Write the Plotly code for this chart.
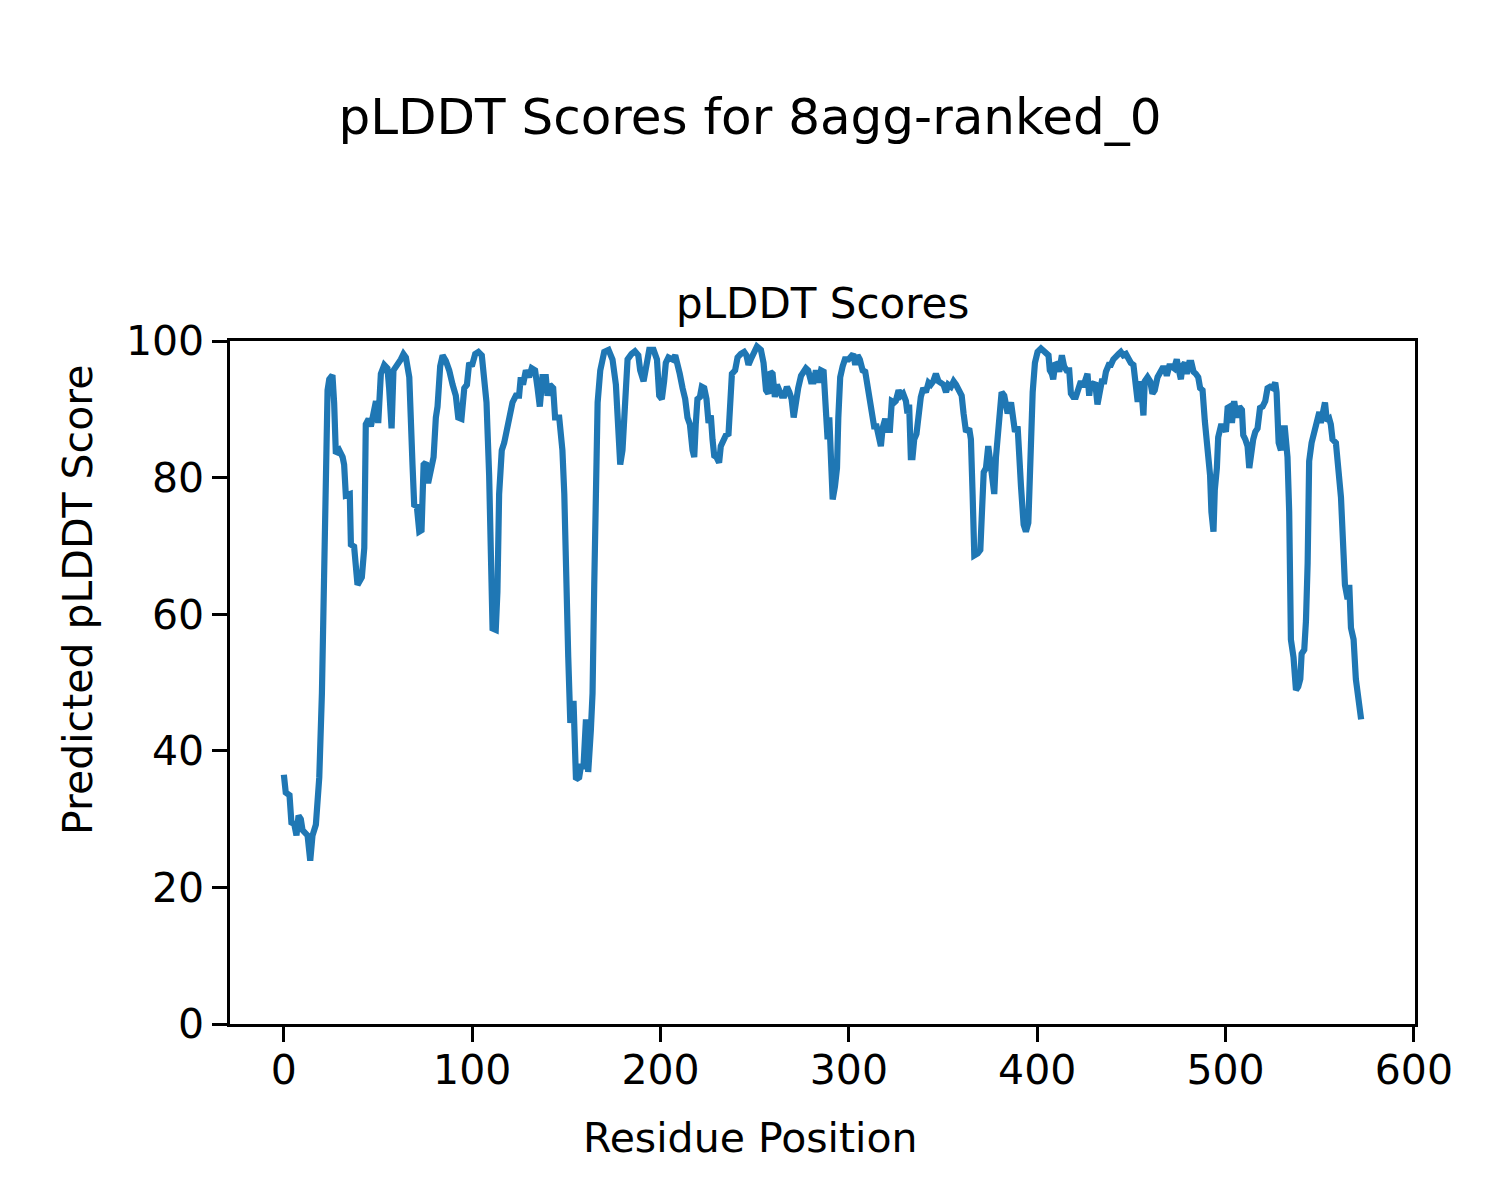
import plotly.graph_objects as go

# Residue positions and pLDDT scores
residue = [0, 1, 3, 4, 5.5, 6.7, 7.8, 9, 9.9, 11.3, 12.6, 14, 15.2, 17, 18.8, 20.2, 21.4, 22.3, 23.2, 24.1, 25.8,
           26.7, 27.6, 29.4, 31.2, 32, 32.9, 35, 35.6, 37.3, 38.2, 39.1, 41.4, 42.7, 43.5, 45, 46.2, 47.4, 48.9,
           50.1, 51.5, 53.3, 55, 55.9, 57.2, 58.2, 60.4, 62.1, 63.5, 64.8, 66.6, 67.4, 68.3, 69.2, 70.6, 71.9,
           73.1, 74.2, 75.4, 76.6, 78.1, 79.5, 80.7, 81.6, 83, 84.3, 86, 87.8, 89.6, 91.3, 92.6, 94.3, 95.8,
           97.2, 98.4, 99.8, 101.6, 103.3, 105.1, 106.3, 107.6, 109, 109.9, 110.8, 112.5, 113.4, 114.3, 115.7,
           117, 118.7, 121.4, 123.2, 124.9, 125.8, 127, 128.5, 130.2, 131.6, 133.4, 134.7, 135.9, 137.3, 139.1,
           140, 141.2, 143, 144, 146.2, 147.9, 148.9, 149.8, 151, 152.1, 153.8, 155.1, 156.8, 157.7, 159.1,
           160.4, 161.6, 163, 163.9, 164.8, 165.7, 166.6, 168, 170.1, 172.4, 174.5, 176.3, 177.5, 178.6, 179.8,
           181.1, 182.5, 184.6, 186.4, 188.2, 189.2, 191, 192.2, 194, 196.3, 198.1, 199.3, 200.7, 201.9, 202.8,
           204.2, 206.4, 207.8, 209, 210.2, 211.7, 213.1, 214.3, 215.6, 217, 217.9, 218.7, 219.6, 220.9, 221.9,
           223.2, 224.4, 225.5, 226.7, 227.6, 228.5, 229.7, 231.1, 232, 233.3, 234.7, 236.1, 236.8, 237.9,
           239.6, 240.9, 242.6, 244.4, 245.6, 246.7, 247.9, 249.4, 251.2, 253.3, 254.7, 256, 257.2, 258.3,
           259.5, 260.7, 261.8, 263, 264.3, 265.7, 267.1, 268.4, 269.6, 270.7, 271.9, 273.1, 274.6, 276,
           277.2, 278.4, 279.9, 281.3, 282.5, 283.8, 285.2, 286.6, 287.8, 288.7, 289.6, 290.5, 291.4, 292.6,
           293.7, 294.4, 295.4, 296.7, 297.9, 299.8, 301.1, 302.3, 303.4, 304.6, 305.8, 307.3, 308.7, 309.9,
           311.1, 312.2, 313.4, 314.7, 315.7, 317, 317.9, 319.3, 320.5, 321.8, 322.8, 324.1, 324.9, 326.4,
           327.6, 328.8, 330.3, 331.1, 332, 332.9, 333.8, 334.7, 335.9, 337, 338.2, 339.5, 340.9, 342.3,
           343.5, 344.8, 346.2, 347.6, 348.8, 350.3, 351.6, 352.8, 354.2, 355.6, 356.9, 358.6, 359.9, 360.9,
           362.2, 363.9, 364.8, 365.7, 366.6, 368.4, 369.8, 370.5, 371.6, 372.8, 374, 375.5, 376.3, 377.2,
           378.1, 379.3, 380.4, 381.1, 382.5, 383.4, 384.3, 386.1, 386.9, 388.2, 389.6, 390.5, 391.4, 392.8,
           394, 395.3, 396.3, 397.6, 398.8, 400.2, 402, 404.3, 406, 406.7, 407.8, 408.5, 409.6, 410.8, 411.7,
           413.1, 414.3, 415.6, 417, 417.9, 419.1, 420.5, 421.9, 423.2, 424.4, 425.5, 426.7, 427.6, 428.5,
           429.7, 430.8, 432, 433.3, 434.3, 435.6, 436.5, 438, 439.1, 440.4, 441.8, 443.2, 444.4, 445.7,
           447.1, 448.5, 449.7, 451.1, 452.4, 453.2, 454.1, 455, 456.4, 457.1, 458.6, 460, 461.2, 462.4,
           463.9, 465.3, 466.5, 467.8, 468.8, 470.1, 471.3, 472.7, 474.1, 475.4, 476.3, 477.1, 478.4, 479.4,
           480.7, 481.9, 483, 484.2, 485.5, 486.5, 487.8, 489, 490.4, 491.8, 492.5, 493.6, 494.3, 495.4,
           496.1, 497.5, 498.9, 500.2, 501.1, 502.3, 503.4, 504.6, 505.9, 507.3, 508.7, 509.4, 510.5, 511.7,
           512.6, 513.5, 514.7, 515.8, 517, 518.3, 519.7, 521.1, 522.3, 523.6, 525, 526.4, 527.1, 528.2,
           529.4, 530.3, 531.5, 532.9, 533.8, 534.7, 536.1, 537.4, 538.6, 539.7, 540.4, 541.8, 542.7, 543.6,
           544.4, 545.7, 547.1, 548.5, 549.8, 550.6, 551.5, 552.8, 553.8, 555.1, 555.9, 556.8, 558.6, 559.8,
           561.3, 562.7, 563.4, 564.8, 565.7, 566.6, 568, 569.2, 570.3, 571.2, 572]

plddt = [36.5, 33.9, 33.5, 29.5, 29.3, 27.6, 30.5, 30.0, 28.4, 28.1, 27.6, 23.9, 27.6, 29.2, 36.1, 48.4, 64.3,
         85.6, 92.8, 94.4, 95.0, 90.9, 83.5, 84.0, 83.0, 81.9, 77.4, 77.6, 70.2, 69.9, 65.4, 64.3, 65.4, 69.7,
         87.8, 88.6, 87.5, 88.8, 91.2, 88.0, 95.2, 96.5, 96.0, 93.1, 87.2, 95.7, 96.5, 97.3, 98.1, 97.6, 94.7,
         83.5, 81.9, 76.0, 75.8, 72.1, 72.3, 81.9, 82.2, 79.2, 81.6, 83.0, 88.8, 90.4, 96.3, 97.9, 97.1, 95.7,
         93.6, 92.0, 88.8, 88.6, 93.1, 93.6, 96.8, 96.3, 98.1, 98.4, 97.9, 95.2, 91.0, 80.3, 69.7, 57.9, 57.7,
         63.3, 77.6, 84.0, 85.1, 87.5, 91.0, 92.0, 92.0, 94.7, 93.6, 95.7, 94.7, 96.0, 95.7, 93.1, 90.4, 94.7,
         94.7, 92.0, 93.6, 93.1, 88.8, 88.8, 84.0, 77.6, 64.3, 53.7, 44.1, 47.3, 35.8, 36.1, 37.7, 37.7, 44.6,
         36.9, 43.0, 48.4, 64.3, 85.6, 91.0, 95.7, 98.4, 98.7, 97.3, 93.6, 88.3, 81.9, 84.0, 90.9, 97.3, 98.1,
         98.5, 97.9, 95.7, 94.1, 96.3, 98.7, 98.7, 97.3, 92.0, 91.5, 94.1, 96.8, 97.6, 97.3, 97.9, 96.8, 95.2,
         93.1, 91.5, 88.8, 87.8, 84.0, 83.0, 87.8, 91.5, 91.8, 93.3, 93.1, 91.5, 88.0, 89.1, 85.6, 83.2, 83.0,
         82.2, 84.6, 85.6, 86.2, 86.4, 89.9, 95.2, 95.7, 97.6, 98.1, 98.4, 97.9, 96.5, 97.3, 98.4, 99.2, 98.7,
         96.8, 92.8, 92.3, 95.5, 95.2, 91.8, 93.6, 92.8, 92.0, 92.0, 93.3, 92.5, 91.5, 88.8, 91.5, 93.1, 94.9,
         95.5, 96.0, 95.7, 94.1, 94.1, 95.7, 93.9, 95.7, 95.5, 91.0, 85.6, 88.8, 79.2, 76.8, 78.7, 81.4, 88.8,
         94.7, 96.3, 97.3, 97.3, 97.6, 98.1, 96.5, 97.9, 97.3, 95.7, 95.5, 93.1, 91.0, 88.8, 87.5, 87.5, 86.2,
         84.6, 87.2, 88.6, 87.0, 87.0, 91.2, 91.0, 91.2, 92.8, 92.0, 92.3, 91.2, 89.4, 90.7, 83.0, 83.0, 85.6,
         86.4, 89.4, 91.8, 93.1, 92.5, 93.9, 93.6, 94.1, 95.2, 94.1, 93.9, 93.6, 92.5, 93.6, 93.3, 94.1, 93.6,
         92.8, 92.0, 89.4, 86.7, 87.2, 85.6, 77.6, 68.6, 68.9, 69.4, 73.9, 80.8, 81.4, 84.6, 81.4, 78.2, 77.6,
         83.0, 87.8, 91.0, 92.5, 92.0, 89.6, 89.4, 91.0, 88.6, 86.7, 87.5, 80.3, 78.7, 73.1, 72.1, 73.4, 83.0,
         92.5, 96.8, 98.4, 98.9, 98.4, 97.9, 95.7, 95.2, 94.4, 96.8, 96.5, 95.5, 97.9, 96.3, 95.7, 95.7, 92.3,
         91.8, 91.8, 93.1, 94.1, 93.3, 94.4, 95.2, 92.0, 93.9, 93.6, 93.9, 90.7, 92.5, 94.1, 94.1, 95.5, 96.5,
         96.5, 97.3, 97.9, 98.1, 98.4, 97.9, 98.1, 97.3, 96.8, 96.5, 94.1, 91.5, 91.5, 94.1, 89.1, 94.1, 94.7,
         94.1, 92.3, 92.8, 94.7, 95.7, 96.0, 96.0, 94.9, 96.3, 96.3, 96.0, 97.3, 95.5, 94.4, 96.3, 96.8, 95.2,
         96.8, 96.8, 95.5, 95.2, 94.7, 93.1, 92.8, 88.3, 83.5, 80.3, 75.0, 72.1, 78.2, 81.4, 85.9, 87.5, 87.5,
         86.7, 90.2, 90.4, 88.0, 91.2, 88.8, 90.4, 89.9, 86.2, 85.6, 84.6, 81.4, 83.5, 85.6, 86.7, 87.2, 90.2,
         90.4, 91.2, 93.1, 93.3, 93.1, 93.9, 92.5, 85.1, 84.0, 87.2, 87.2, 83.0, 75.0, 56.3, 53.7, 48.9, 49.4,
         50.5, 54.2, 54.8, 59.0, 67.5, 82.4, 85.1, 86.7, 88.6, 89.6, 88.0, 89.9, 91.0, 88.3, 88.6, 87.8, 85.6,
         85.1, 81.4, 77.1, 68.6, 64.3, 62.2, 64.3, 58.0, 56.3, 50.5, 48.4, 47.6, 44.6]

x_ticks = [0, 100, 200, 300, 400, 500, 600]
y_ticks = [0, 20, 40, 60, 80, 100]

FONT = "DejaVu Sans"

fig = go.Figure()
fig.add_trace(go.Scatter(x=residue, y=plddt, mode="lines",
                         line=dict(color="#1f77b4", width=6.2), showlegend=False))

axis_common = dict(showline=True, linecolor="black", linewidth=3.3, mirror=True,
                   ticks="outside", ticklen=14.5, tickwidth=3.3, tickcolor="black",
                   showgrid=False, zeroline=False, automargin=False,
                   tickfont=dict(family=FONT, size=41, color="black"))

fig.update_layout(
    width=1500, height=1200,
    paper_bgcolor="white", plot_bgcolor="white",
    margin=dict(l=222, r=93, t=333, b=184),
    title=dict(text="pLDDT Scores for 8agg-ranked_0", x=742 / 1500, xref="container", xanchor="center",
               y=1 - 108 / 1200, yref="container", yanchor="middle",
               font=dict(family=FONT, size=50, color="black")),
    xaxis=dict(range=[-28.6, 600.6], tickvals=x_ticks, ticklabelstandoff=-7, **axis_common),
    yaxis=dict(range=[0, 100], tickvals=y_ticks, **axis_common),
    annotations=[
        dict(text="pLDDT Scores", xref="paper", yref="paper", x=0.5, y=1 + 38 / 683,
             xanchor="center", yanchor="middle", showarrow=False,
             font=dict(family=FONT, size=42, color="black")),
        # figure-level axis labels (centred on the figure, not the axes)
        dict(text="Residue Position", xref="paper", yref="paper",
             x=(742 - 222) / 1185, y=(1016 - 1130) / 683,
             xanchor="center", yanchor="middle", showarrow=False,
             font=dict(family=FONT, size=41, color="black")),
        dict(text="Predicted pLDDT Score", xref="paper", yref="paper", textangle=-90,
             x=(70 - 222) / 1185, y=(1016 - 592) / 683,
             xanchor="center", yanchor="middle", showarrow=False,
             font=dict(family=FONT, size=41, color="black")),
    ],
)

fig.write_html("out.html")
